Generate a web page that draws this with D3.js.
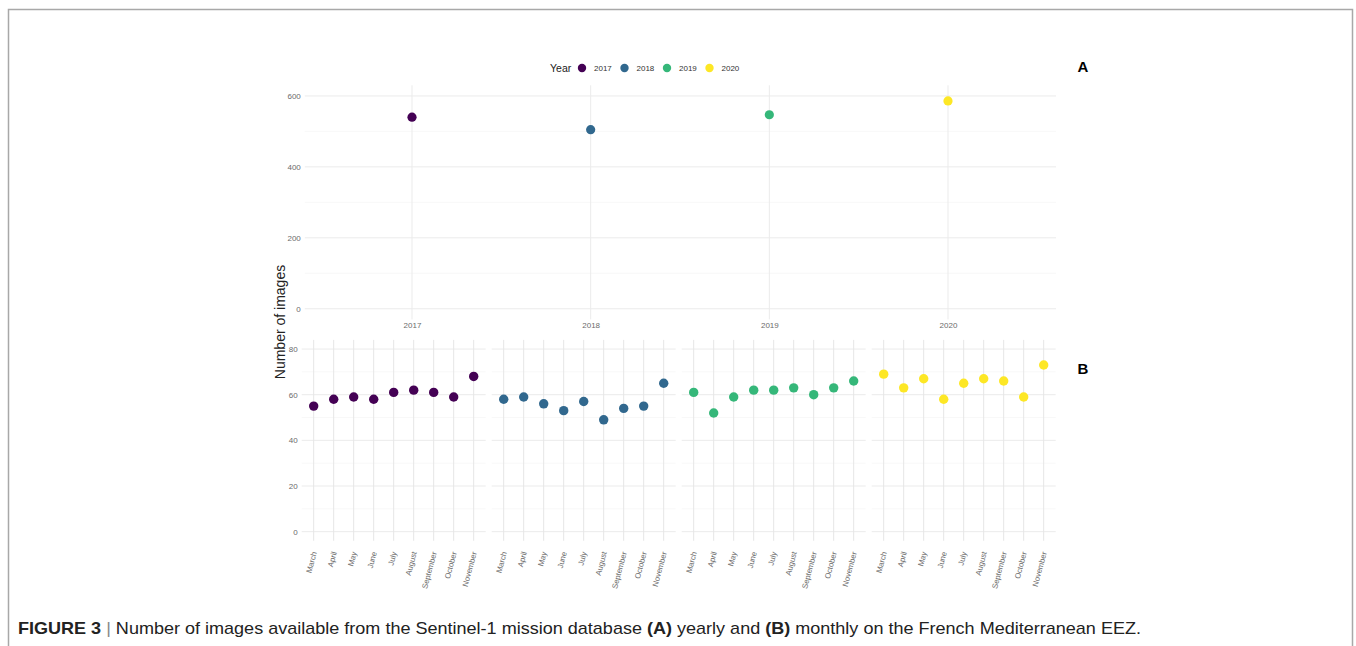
<!DOCTYPE html>
<html>
<head>
<meta charset="utf-8">
<script src="https://cdn.jsdelivr.net/npm/d3@7.9.0/dist/d3.min.js"></script>
<style>
  body { margin: 0; background: #fff; }
  svg { display: block; font-family: "Liberation Sans", Arial, sans-serif; }
</style>
</head>
<body>
<div id="chart"></div>
<script>
const years = ["2017", "2018", "2019", "2020"];
const yearColors = ["#440154", "#31688E", "#35B779", "#FDE725"];
const yearlyImages = [540, 505, 547, 586];

const months = ["March", "April", "May", "June", "July", "August", "September", "October", "November"];
const monthly2017 = [55, 58, 59, 58, 61, 62, 61, 59, 68];
const monthly2018 = [58, 59, 56, 53, 57, 49, 54, 55, 65];
const monthly2019 = [61, 52, 59, 62, 62, 63, 60, 63, 66];
const monthly2020 = [69, 63, 67, 58, 65, 67, 66, 59, 73];
const monthlyByYear = [monthly2017, monthly2018, monthly2019, monthly2020];

const yTicksA = [0, 200, 400, 600];
const yTicksB = [0, 20, 40, 60, 80];

const width = 1356, height = 646;
const gridMajor = "#ebebeb", gridMinor = "#f6f6f6", tickText = "#6b6b6b";

const svg = d3.select("#chart").append("svg")
  .attr("width", width).attr("height", height);

// figure frame (open at the bottom)
svg.append("path")
  .attr("d", `M8.5,${height + 5}V9.5H1352.5V${height + 5}`)
  .attr("fill", "none").attr("stroke", "#a8a8a8").attr("stroke-width", 1.5);

// ---------- panel A: yearly ----------
const color = d3.scaleOrdinal().domain(years).range(yearColors);

const xA = d3.scalePoint().domain(years).range([412, 948]);
const stepA = xA.step();
const leftA = xA(years[0]) - 0.6 * stepA, rightA = 1056;
const yA = d3.scaleLinear().domain([-30, 630]).range([319.4, 85.3]);

const gA = svg.append("g");
gA.selectAll(".minorA").data([100, 300, 500]).enter().append("line")
  .attr("x1", leftA).attr("x2", rightA)
  .attr("y1", d => yA(d)).attr("y2", d => yA(d))
  .attr("stroke", gridMinor).attr("stroke-width", 0.8);
gA.selectAll(".majorA").data(yTicksA).enter().append("line")
  .attr("x1", leftA).attr("x2", rightA)
  .attr("y1", d => yA(d)).attr("y2", d => yA(d))
  .attr("stroke", gridMajor).attr("stroke-width", 1);
gA.selectAll(".vA").data(years).enter().append("line")
  .attr("x1", d => xA(d)).attr("x2", d => xA(d))
  .attr("y1", yA(630)).attr("y2", yA(-30))
  .attr("stroke", gridMajor).attr("stroke-width", 1);

// axes (text only, theme_minimal style)
const axA = gA.append("g").attr("transform", `translate(${leftA - 4},0)`)
  .call(d3.axisLeft(yA).tickValues(yTicksA).tickSize(0).tickPadding(0));
axA.select(".domain").remove();
axA.selectAll("text").attr("fill", tickText).style("font-size", "8px");

const axAx = gA.append("g").attr("transform", `translate(0,${yA(-30) + 3})`)
  .call(d3.axisBottom(xA).tickSize(0).tickPadding(0));
axAx.select(".domain").remove();
axAx.selectAll("text").attr("fill", tickText).style("font-size", "8px");

gA.selectAll(".ptA").data(years).enter().append("circle")
  .attr("cx", d => xA(d))
  .attr("cy", (d, i) => yA(yearlyImages[i]))
  .attr("r", 4.6)
  .attr("fill", d => color(d));

// legend
const legend = svg.append("g").attr("transform", "translate(550,68)");
legend.append("text").attr("x", 0).attr("y", 0).attr("dy", "0.35em")
  .style("font-size", "10.5px").attr("fill", "#222").text("Year");
years.forEach((yr, i) => {
  const lx = 32 + i * 42.5;
  legend.append("circle").attr("cx", lx).attr("cy", 0).attr("r", 4.2).attr("fill", color(yr));
  legend.append("text").attr("x", lx + 12).attr("y", 0).attr("dy", "0.35em")
    .style("font-size", "8px").attr("fill", "#333").text(yr);
});

// ---------- panel B: monthly facets ----------
const facetWidth = 184, facetGap = 6, facetLeft = 301.7;
const yB = d3.scaleLinear().domain([-4, 84]).range([540.8, 339.9]);

years.forEach((yr, fi) => {
  const x0 = facetLeft + fi * (facetWidth + facetGap);
  const xB = d3.scalePoint().domain(months)
    .range([x0 + facetWidth * 0.6 / 9.2, x0 + facetWidth - facetWidth * 0.6 / 9.2]);
  const g = svg.append("g");

  g.selectAll(".minorB").data([10, 30, 50, 70]).enter().append("line")
    .attr("x1", x0).attr("x2", x0 + facetWidth)
    .attr("y1", d => yB(d)).attr("y2", d => yB(d))
    .attr("stroke", gridMinor).attr("stroke-width", 0.8);
  g.selectAll(".majorB").data(yTicksB).enter().append("line")
    .attr("x1", x0).attr("x2", x0 + facetWidth)
    .attr("y1", d => yB(d)).attr("y2", d => yB(d))
    .attr("stroke", gridMajor).attr("stroke-width", 1);
  g.selectAll(".vB").data(months).enter().append("line")
    .attr("x1", d => xB(d)).attr("x2", d => xB(d))
    .attr("y1", yB(84)).attr("y2", yB(-4))
    .attr("stroke", "#e6e6e6").attr("stroke-width", 1);

  if (fi === 0) {
    const ay = g.append("g").attr("transform", `translate(${x0 - 4},0)`)
      .call(d3.axisLeft(yB).tickValues(yTicksB).tickSize(0).tickPadding(0));
    ay.select(".domain").remove();
    ay.selectAll("text").attr("fill", tickText).style("font-size", "8px");
  }

  const ax = g.append("g").attr("transform", `translate(0,${yB(-4) + 11})`)
    .call(d3.axisBottom(xB).tickSize(0).tickPadding(0));
  ax.select(".domain").remove();
  ax.selectAll("text")
    .attr("fill", tickText).style("font-size", "7.8px")
    .attr("text-anchor", "end")
    .attr("y", 0)
    .attr("dy", "0.35em")
    .attr("transform", "rotate(-75)");

  g.selectAll(".ptB").data(monthlyByYear[fi]).enter().append("circle")
    .attr("cx", (d, i) => xB(months[i]))
    .attr("cy", d => yB(d))
    .attr("r", 4.7)
    .attr("fill", color(yr));
});

// shared y title
svg.append("text")
  .attr("transform", `translate(285,322) rotate(-90)`)
  .attr("text-anchor", "middle")
  .style("font-size", "14px").attr("fill", "#222")
  .text("Number of images");

// panel tags
svg.append("text").attr("x", 1083).attr("y", 72).attr("text-anchor", "middle")
  .style("font-size", "15px").style("font-weight", "bold").text("A");
svg.append("text").attr("x", 1083).attr("y", 374).attr("text-anchor", "middle")
  .style("font-size", "15px").style("font-weight", "bold").text("B");

// caption
const cap = svg.append("text").attr("x", 18).attr("y", 634)
  .style("font-size", "17px").attr("fill", "#222")
  .attr("textLength", 1123).attr("lengthAdjust", "spacingAndGlyphs");
cap.append("tspan").style("font-weight", "bold").text("FIGURE 3");
cap.append("tspan").attr("fill", "#888").text(" | ");
cap.append("tspan").text("Number of images available from the Sentinel-1 mission database ");
cap.append("tspan").style("font-weight", "bold").text("(A)");
cap.append("tspan").text(" yearly and ");
cap.append("tspan").style("font-weight", "bold").text("(B)");
cap.append("tspan").text(" monthly on the French Mediterranean EEZ.");
</script>
</body>
</html>
